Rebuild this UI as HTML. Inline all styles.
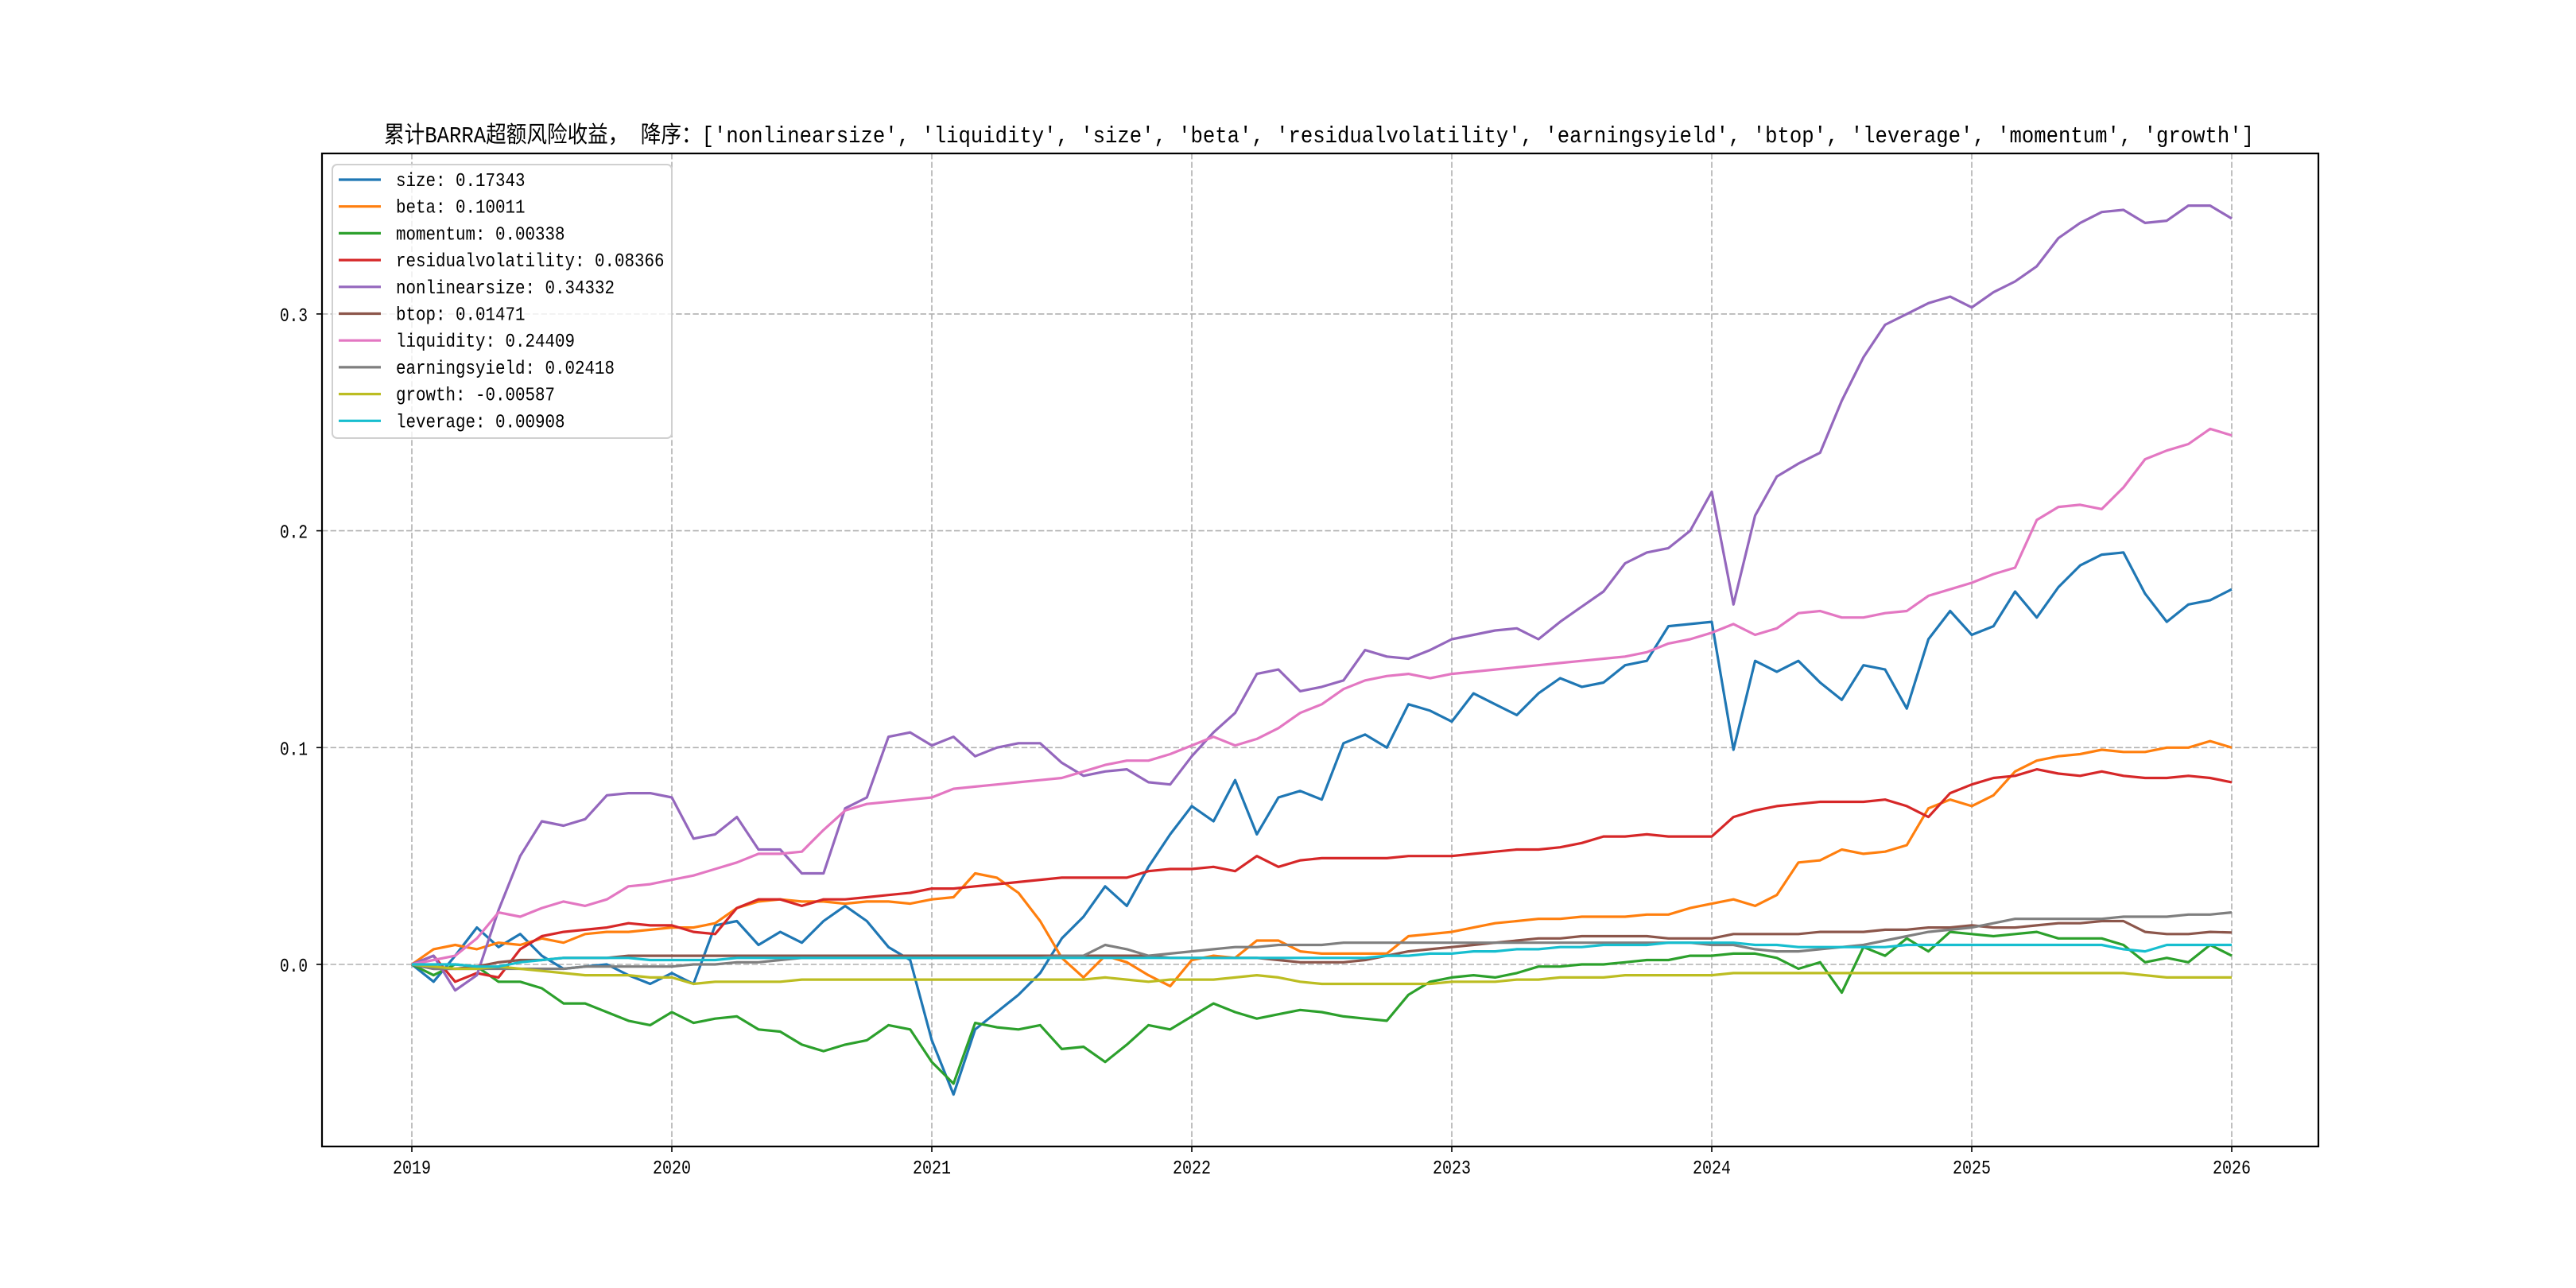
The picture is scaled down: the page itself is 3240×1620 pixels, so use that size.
<!DOCTYPE html>
<html><head><meta charset="utf-8"><style>
html,body{margin:0;padding:0;background:#fff;}
svg{display:block;}
text{font-family:"Liberation Mono","Noto Sans CJK SC",monospace;fill:#000;}
</style></head><body>
<svg id="chart" width="3240" height="1620" viewBox="0 0 3240 1620" xmlns="http://www.w3.org/2000/svg">
<rect width="3240" height="1620" fill="#fff"/>
<text x="483" y="179" font-size="29" textLength="2352" lengthAdjust="spacingAndGlyphs" style="font-family:'Liberation Mono','Noto Sans CJK SC',monospace">累计BARRA超额风险收益， 降序：['nonlinearsize', 'liquidity', 'size', 'beta', 'residualvolatility', 'earningsyield', 'btop', 'leverage', 'momentum', 'growth']</text>
<g id="grid"></g>
<g id="series"></g>
<rect x="405" y="193" width="2511" height="1249" fill="none" stroke="#000" stroke-width="2.2"/>
<g id="ticks"></g>
<g id="legend"></g>
</svg>
<script>
// months since 2019-01
const months = Array.from({length:85},(_,i)=>i);
const xTickLabels = ['2019','2020','2021','2022','2023','2024','2025','2026'];
const yTickValues = [0.0,0.1,0.2,0.3];
const yTickLabels = ['0.0','0.1','0.2','0.3'];
const seriesNames = ['size','beta','momentum','residualvolatility','nonlinearsize','btop','liquidity','earningsyield','growth','leverage'];
const legendValues = ['0.17343','0.10011','0.00338','0.08366','0.34332','0.01471','0.24409','0.02418','-0.00587','0.00908'];
const seriesColors = ['#1f77b4','#ff7f0e','#2ca02c','#d62728','#9467bd','#8c564b','#e377c2','#7f7f7f','#bcbd22','#17becf'];
const size = [0,-.008,.004,.017,.008,.014,.004,-.002,-.001,0,-.005,-.009,-.004,
-.009,.018,.02,.009,.015,.01,.02,.027,.02,.008,.002,-.035,
-.06,-.03,-.022,-.014,-.004,.012,.022,.036,.027,.045,.06,.073,
.066,.085,.06,.077,.08,.076,.102,.106,.1,.12,.117,.112,
.125,.12,.115,.125,.132,.128,.13,.138,.14,.156,.157,.158,
.099,.14,.135,.14,.13,.122,.138,.136,.118,.15,.163,.152,
.156,.172,.16,.174,.184,.189,.19,.171,.158,.166,.168,.173];
const beta = [0,.007,.009,.007,.01,.009,.012,.01,.014,.015,.015,.016,.017,
.017,.019,.026,.029,.03,.029,.029,.028,.029,.029,.028,.03,
.031,.042,.04,.033,.02,.003,-.006,.004,.001,-.005,-.01,.002,
.004,.003,.011,.011,.006,.005,.005,.005,.005,.013,.014,.015,
.017,.019,.02,.021,.021,.022,.022,.022,.023,.023,.026,.028,
.03,.027,.032,.047,.048,.053,.051,.052,.055,.072,.076,.073,
.078,.089,.094,.096,.097,.099,.098,.098,.1,.1,.103,.1];
const momentum = [0,-.005,0,-.001,-.008,-.008,-.011,-.018,-.018,-.022,-.026,-.028,-.022,
-.027,-.025,-.024,-.03,-.031,-.037,-.04,-.037,-.035,-.028,-.03,-.045,
-.055,-.027,-.029,-.03,-.028,-.039,-.038,-.045,-.037,-.028,-.03,-.024,
-.018,-.022,-.025,-.023,-.021,-.022,-.024,-.025,-.026,-.014,-.008,-.006,
-.005,-.006,-.004,-.001,-.001,0,0,.001,.002,.002,.004,.004,
.005,.005,.003,-.002,.001,-.013,.008,.004,.012,.006,.015,.014,
.013,.014,.015,.012,.012,.012,.009,.001,.003,.001,.009,.004];
const residualvolatility = [0,.004,-.008,-.004,-.006,.007,.013,.015,.016,.017,.019,.018,.018,
.015,.014,.026,.03,.03,.027,.03,.03,.031,.032,.033,.035,
.035,.036,.037,.038,.039,.04,.04,.04,.04,.043,.044,.044,
.045,.043,.05,.045,.048,.049,.049,.049,.049,.05,.05,.05,
.051,.052,.053,.053,.054,.056,.059,.059,.06,.059,.059,.059,
.068,.071,.073,.074,.075,.075,.075,.076,.073,.068,.079,.083,
.086,.087,.09,.088,.087,.089,.087,.086,.086,.087,.086,.084];
const nonlinearsize = [0,.004,-.012,-.005,.025,.05,.066,.064,.067,.078,.079,.079,.077,
.058,.06,.068,.053,.053,.042,.042,.072,.077,.105,.107,.101,
.105,.096,.1,.102,.102,.093,.087,.089,.09,.084,.083,.096,
.107,.116,.134,.136,.126,.128,.131,.145,.142,.141,.145,.15,
.152,.154,.155,.15,.158,.165,.172,.185,.19,.192,.2,.218,
.166,.207,.225,.231,.236,.26,.28,.295,.3,.305,.308,.303,
.31,.315,.322,.335,.342,.347,.348,.342,.343,.35,.35,.344];
const btop = [0,-.002,-.002,-.001,.001,.002,.002,.003,.003,.003,.004,.004,.004,
.004,.004,.004,.004,.004,.004,.004,.004,.004,.004,.004,.004,
.004,.004,.004,.004,.004,.004,.004,.004,.004,.004,.003,.003,
.003,.003,.003,.002,.001,.001,.001,.002,.004,.006,.007,.008,
.009,.01,.011,.012,.012,.013,.013,.013,.013,.012,.012,.012,
.014,.014,.014,.014,.015,.015,.015,.016,.016,.017,.017,.018,
.017,.017,.018,.019,.019,.02,.02,.015,.014,.014,.015,.0147];
const liquidity = [0,.002,.004,.012,.024,.022,.026,.029,.027,.03,.036,.037,.039,
.041,.044,.047,.051,.051,.052,.062,.071,.074,.075,.076,.077,
.081,.082,.083,.084,.085,.086,.089,.092,.094,.094,.097,.101,
.105,.101,.104,.109,.116,.12,.127,.131,.133,.134,.132,.134,
.135,.136,.137,.138,.139,.14,.141,.142,.144,.148,.15,.153,
.157,.152,.155,.162,.163,.16,.16,.162,.163,.17,.173,.176,
.18,.183,.205,.211,.212,.21,.22,.233,.237,.24,.247,.244];
const earningsyield = [0,-.002,-.002,-.002,-.002,-.002,-.002,-.002,-.001,-.001,-.001,-.001,-.001,
0,0,.001,.001,.002,.003,.003,.003,.003,.003,.003,.003,
.003,.003,.003,.003,.003,.004,.004,.009,.007,.004,.005,.006,
.007,.008,.008,.009,.009,.009,.01,.01,.01,.01,.01,.01,
.01,.01,.01,.01,.01,.01,.01,.01,.01,.01,.01,.009,
.009,.007,.006,.006,.007,.008,.009,.011,.013,.015,.016,.017,
.019,.021,.021,.021,.021,.021,.022,.022,.022,.023,.023,.024];
const growth = [0,-.001,-.002,-.002,-.001,-.002,-.003,-.004,-.005,-.005,-.005,-.006,-.006,
-.009,-.008,-.008,-.008,-.008,-.007,-.007,-.007,-.007,-.007,-.007,-.007,
-.007,-.007,-.007,-.007,-.007,-.007,-.007,-.006,-.007,-.008,-.007,-.007,
-.007,-.006,-.005,-.006,-.008,-.009,-.009,-.009,-.009,-.009,-.009,-.008,
-.008,-.008,-.007,-.007,-.006,-.006,-.006,-.005,-.005,-.005,-.005,-.005,
-.004,-.004,-.004,-.004,-.004,-.004,-.004,-.004,-.004,-.004,-.004,-.004,
-.004,-.004,-.004,-.004,-.004,-.004,-.004,-.005,-.006,-.006,-.006,-.006];
const leverage = [0,0,0,-.001,-.001,.001,.002,.003,.003,.003,.003,.002,.002,
.002,.002,.003,.003,.003,.003,.003,.003,.003,.003,.003,.003,
.003,.003,.003,.003,.003,.003,.003,.003,.003,.003,.003,.003,
.003,.003,.003,.003,.003,.003,.003,.003,.004,.004,.005,.005,
.006,.006,.007,.007,.008,.008,.009,.009,.009,.01,.01,.01,
.01,.009,.009,.008,.008,.008,.008,.008,.009,.009,.009,.009,
.009,.009,.009,.009,.009,.009,.007,.006,.009,.009,.009,.009];
const seriesData = [size,beta,momentum,residualvolatility,nonlinearsize,btop,liquidity,earningsyield,growth,leverage];

const NS='http://www.w3.org/2000/svg';
const L=405,R=2916,T=193,B=1442;
const x0=518, pxPerYear=327;
function xScale(m){return x0 + m/12*pxPerYear;}
const y0=1213, pxPerUnit=2727;
function yScale(v){return y0 - v*pxPerUnit;}
function mk(tag,attrs,parent){const e=document.createElementNS(NS,tag);for(const k in attrs)e.setAttribute(k,attrs[k]);parent.appendChild(e);return e;}

const grid=document.getElementById('grid'), ticks=document.getElementById('ticks');
xTickLabels.forEach((lab,i)=>{
  const x=xScale(i*12);
  const g=mk('line',{x1:x,x2:x,y1:T,y2:B,stroke:'#b0b0b0','stroke-width':1.6,'stroke-dasharray':'7.4,3.2'},grid);
  
  
  const t=mk('line',{x1:x,x2:x,y1:B,y2:B+7,stroke:'#000','stroke-width':1.6},ticks);
  
  
  const tx=mk('text',{x:x-24,y:1476,'font-size':24,textLength:48,lengthAdjust:'spacingAndGlyphs'},ticks);
  tx.textContent=lab;
  
  
});
yTickValues.forEach((v,i)=>{
  const y=yScale(v);
  const g=mk('line',{x1:L,x2:R,y1:y,y2:y,stroke:'#b0b0b0','stroke-width':1.6,'stroke-dasharray':'7.4,3.2'},grid);
  
  
  const t=mk('line',{x1:L-7,x2:L,y1:y,y2:y,stroke:'#000','stroke-width':1.6},ticks);
  
  
  const tx=mk('text',{x:352,y:y+9,'font-size':24,textLength:35,lengthAdjust:'spacingAndGlyphs'},ticks);
  tx.textContent=yTickLabels[i];
  
  
});

const sg=document.getElementById('series');
seriesData.forEach((arr,si)=>{
  const d=arr.map((v,i)=>(i?'L':'M')+xScale(months[i]).toFixed(1)+','+yScale(v).toFixed(1)).join(' ');
  const p=mk('path',{d:d,fill:'none',stroke:seriesColors[si],'stroke-width':3.2,'stroke-linejoin':'round'},sg);
  
  
});

const lg=document.getElementById('legend');
const box=mk('rect',{x:418,y:207,width:427,height:344,rx:6,fill:'#fff','fill-opacity':0.8,stroke:'#d0d0d0','stroke-width':2},lg);


seriesNames.forEach((n,i)=>{
  const cy=226+i*33.7;
  const ln=mk('line',{x1:426,x2:479,y1:cy,y2:cy,stroke:seriesColors[i],'stroke-width':3.2},lg);
  
  
  const label=n+': '+legendValues[i];
  const tx=mk('text',{x:498,y:cy+8,'font-size':24,textLength:(label.length*12.5).toFixed(1),lengthAdjust:'spacingAndGlyphs'},lg);
  tx.textContent=label;
  
  
});
</script>
</body></html>
